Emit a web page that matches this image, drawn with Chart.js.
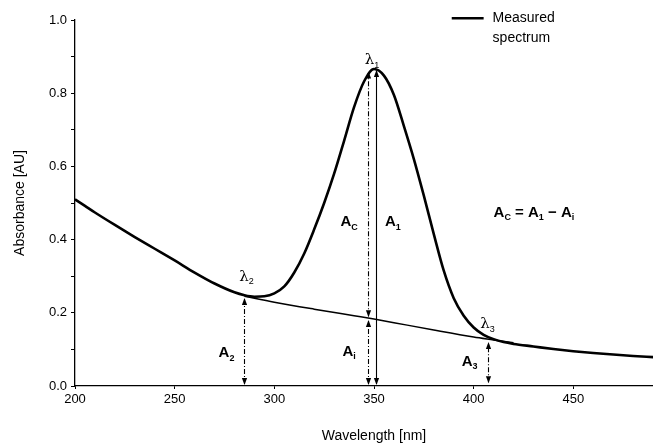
<!DOCTYPE html>
<html><head><meta charset="utf-8">
<script src="https://cdn.jsdelivr.net/npm/chart.js@4/dist/chart.umd.min.js"></script>
<style>
html,body{margin:0;padding:0;background:#fff;overflow:hidden;width:653px;height:448px}
#wrap{width:690px;height:448px}
</style></head><body>
<div id="wrap"><canvas id="c" width="690" height="448"></canvas></div>
<script>
// ---- data ----
const wavelengths = [200,205,210,220,230,240,250,260,270,280,285,290,295,300,305,310,315,320,325,330,335,340,345,350,355,360,365,370,375,380,385,390,395,400,405,410,415,420,430,440,450,460,470,480,490,500];
const measured    = [0.51,0.492,0.474,0.44,0.407,0.375,0.343,0.31,0.28,0.256,0.248,0.244,0.245,0.253,0.272,0.31,0.362,0.428,0.5,0.58,0.67,0.762,0.832,0.866,0.848,0.795,0.71,0.62,0.52,0.415,0.315,0.24,0.192,0.16,0.14,0.128,0.12,0.115,0.108,0.101,0.095,0.09,0.086,0.082,0.079,0.076];
const baselineWavelengths = [285,300,320,340,350,360,380,400,410,420];
const baselineValues      = [0.245,0.229,0.21,0.192,0.183,0.173,0.153,0.134,0.126,0.118];
const xTickValues = [200,250,300,350,400,450,500];
const yTickLabels = ['0.0','0.2','0.4','0.6','0.8','1.0'];

// annotation arrows: [wavelength, from, to, dashed]
const arrowWl   = [285, 347, 347, 351, 407];
const arrowFrom = [0, 0, 0.185, 0, 0.005];
const arrowTo   = [0.243, 0.183, 0.862, 0.866, 0.123];
const arrowDash = [true, true, true, false, true];

// text labels
const labelText = ['A','A','A','A','A'];
const labelSub  = ['C','1','i','2','3'];
const labelWl   = [337.5, 359.5, 337.5, 276, 398];
const labelVal  = [0.448, 0.448, 0.093, 0.09, 0.066];
const lambdaSub = ['1','2','3'];
const lambdaWl  = [349, 286, 407];
const lambdaVal = [0.89, 0.298, 0.168];

const FONT = "'Liberation Sans Narrow','Liberation Sans',Arial,sans-serif";
Chart.defaults.font.family = FONT;
Chart.defaults.color = '#000';

function toPts(xs, ys){ return xs.map((x,i)=>({x:x,y:ys[i]})); }

const annot = {
  id:'annot',
  afterDatasetsDraw(chart){
    const ctx = chart.ctx, xs = chart.scales.x, ys = chart.scales.y;
    ctx.save();
    ctx.strokeStyle = '#000'; ctx.fillStyle = '#000'; ctx.lineWidth = 1.1;
    function head(x, y, dir){
      ctx.beginPath(); ctx.moveTo(x, y); ctx.lineTo(x-2.6, y - dir*7); ctx.lineTo(x+2.6, y - dir*7); ctx.closePath(); ctx.fill();
    }
    arrowWl.forEach((w,i)=>{
      const x = Math.round(xs.getPixelForValue(w))+0.5;
      const yA = ys.getPixelForValue(arrowFrom[i]);
      const yB = ys.getPixelForValue(arrowTo[i]);
      ctx.setLineDash(arrowDash[i] ? [5,2,1,2] : []);
      ctx.beginPath(); ctx.moveTo(x, yA-2); ctx.lineTo(x, yB+2); ctx.stroke();
      ctx.setLineDash([]);
      head(x, yA-1, 1);
      head(x, yB+1, -1);
    });
    ctx.textBaseline = 'middle'; ctx.textAlign = 'left';
    function sub(main, s, x, y, mainFont, subFont, center){
      ctx.font = mainFont; const w1 = ctx.measureText(main).width;
      ctx.font = subFont; const w2 = ctx.measureText(s).width;
      let x0 = center ? x - (w1+w2)/2 : x;
      ctx.font = mainFont; ctx.fillText(main, x0, y);
      ctx.font = subFont; ctx.fillText(s, x0 + w1, y + 5);
      return x0 + w1 + w2;
    }
    const bf = "bold 15px 'Liberation Sans',Arial,sans-serif", sf = "bold 9px 'Liberation Sans',Arial,sans-serif";
    labelText.forEach((t,i)=>{
      sub(t, labelSub[i], xs.getPixelForValue(labelWl[i]), ys.getPixelForValue(labelVal[i]), bf, sf, true);
    });
    lambdaSub.forEach((s,i)=>{
      sub('λ', s, xs.getPixelForValue(lambdaWl[i]), ys.getPixelForValue(lambdaVal[i]),
          "15px 'DejaVu Serif','Liberation Serif',serif", "9px 'Liberation Sans',Arial,sans-serif", true);
    });
    const fx = xs.getPixelForValue(410), fy = ys.getPixelForValue(0.473);
    let cx = sub('A','C', fx, fy, bf, sf, false);
    ctx.font = bf; ctx.fillText(' = ', cx, fy); cx += ctx.measureText(' = ').width;
    cx = sub('A','1', cx, fy, bf, sf, false);
    ctx.font = bf; ctx.fillText(' \u2212 ', cx, fy); cx += ctx.measureText(' \u2212 ').width;
    sub('A','i', cx, fy, bf, sf, false);
    const lx0 = xs.getPixelForValue(389), lx1 = xs.getPixelForValue(405), ly = ys.getPixelForValue(1.005);
    ctx.lineWidth = 2.5; ctx.beginPath(); ctx.moveTo(lx0, ly); ctx.lineTo(lx1, ly); ctx.stroke();
    ctx.font = "14px " + FONT;
    const tx = xs.getPixelForValue(409.5);
    ctx.fillText('Measured', tx, ly);
    ctx.fillText('spectrum', tx, ly + 20);
    ctx.restore();
  }
};

new Chart(document.getElementById('c'), {
  type:'line',
  data:{ datasets:[
    { label:'Measured spectrum', data: toPts(wavelengths, measured), borderColor:'#000', borderWidth:2.6,
      pointRadius:0, cubicInterpolationMode:'monotone', fill:false },
    { label:'Baseline', data: toPts(baselineWavelengths, baselineValues), borderColor:'#000', borderWidth:1.5,
      pointRadius:0, cubicInterpolationMode:'monotone', fill:false }
  ]},
  options:{
    responsive:false, animation:false, events:[],
    layout:{ padding:{ top:20, right:17, left:0, bottom:0 } },
    plugins:{ legend:{display:false}, tooltip:{enabled:false} },
    scales:{
      x:{ type:'linear', min:200, max:500,
        border:{display:true, color:'#000', width:1.3},
        grid:{ display:true, drawOnChartArea:false, drawTicks:true, tickLength:3, color:'#000' },
        afterBuildTicks(s){ s.ticks = xTickValues.map(v=>({value:v})); },
        ticks:{ font:{size:13}, color:'#000', padding:3, maxRotation:0, autoSkip:false },
        title:{ display:true, text:'Wavelength [nm]', font:{size:14}, color:'#000', padding:{top:0,bottom:3} },
        afterFit(s){ s.height = 62; s.paddingLeft = 0; s.paddingRight = 0; }
      },
      y:{ type:'linear', min:0, max:1.0,
        border:{display:true, color:'#000', width:1.3},
        grid:{ display:true, drawOnChartArea:false, drawTicks:true, tickLength:4, color:'#000' },
        ticks:{ stepSize:0.1, font:{size:13}, color:'#000', padding:4,
          callback(v){ const k = Math.round(v*10); return k % 2 === 0 ? yTickLabels[k/2] : ''; } },
        title:{ display:true, text:'Absorbance [AU]', font:{size:14}, color:'#000', padding:{top:12,bottom:0} },
        afterFit(s){ s.width = 75; s.paddingTop = 0; s.paddingBottom = 0; }
      }
    }
  },
  plugins:[annot]
});
</script>
</body></html>
